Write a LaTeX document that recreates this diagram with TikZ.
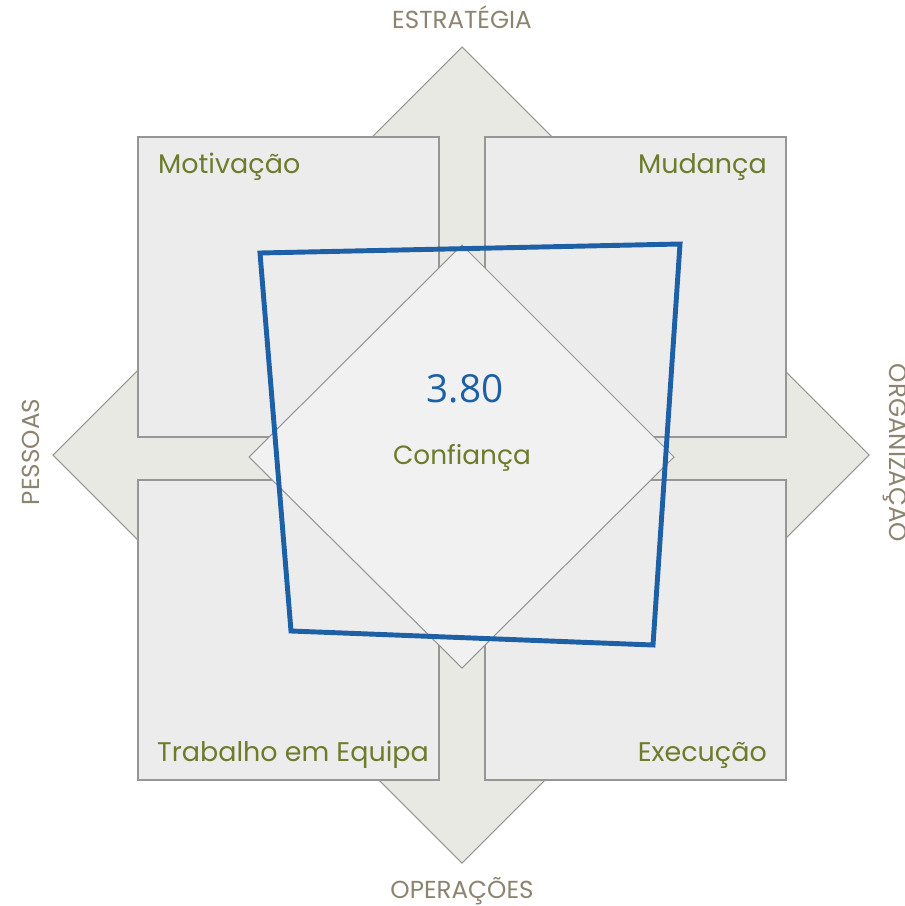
\documentclass[tikz,border=0pt]{standalone}
\usepackage{fontspec}
\setmainfont{Poppins}
\newfontfamily\numfont{Open Sans}
\usepackage{tikz}
\definecolor{crossfill}{RGB}{232,233,227}
\definecolor{boxfill}{RGB}{236,236,236}
\definecolor{diamondfill}{RGB}{241,241,241}
\definecolor{edgegray}{RGB}{150,150,150}
\definecolor{olivetext}{RGB}{108,124,42}
\definecolor{axistext}{RGB}{140,132,112}
\definecolor{scoreblue}{RGB}{30,96,165}
\tikzset{
    quadlabel/.style={font=\fontsize{23}{27}\selectfont, text=olivetext, inner sep=0pt},
    axislabel/.style={font=\fontsize{21}{25}\selectfont, text=axistext, inner sep=0pt},
    quadbox/.style={draw=edgegray, line width=1pt, fill=boxfill}
}

\begin{document}
\begin{tikzpicture}[x=0.3mm, y=-0.3mm]
    \useasboundingbox (0,0) rectangle (904,906);

    % Four-way arrow behind the boxes
    \draw[edgegray, line width=0.9pt, fill=crossfill]
        (462,47) -- (582,167) -- (522,167) -- (522,396) -- (749,396) -- (749,335)
        -- (869,455) -- (749,575) -- (749,516) -- (522,516) -- (522,743) -- (582,743)
        -- (462,863) -- (342,743) -- (402,743) -- (402,516) -- (173,516) -- (173,575)
        -- (53,455) -- (173,335) -- (173,396) -- (402,396) -- (402,167) -- (342,167) -- cycle;

    % Quadrant boxes
    \foreach \x/\y in {138/137, 485/137, 138/480, 485/480} {
        \draw[quadbox] (\x,\y) rectangle (\x+301,\y+300);
    }

    % Centre diamond
    \draw[edgegray, line width=0.9pt, fill=diamondfill]
        (462,245) -- (674,457) -- (462,668) -- (249,457) -- cycle;

    % Score polygon
    \draw[scoreblue, line width=4.2pt, line join=miter]
        (260,253) -- (680,244) -- (653,645) -- (291,631) -- cycle;

    % Quadrant labels
    \node[quadlabel, anchor=base west] (motiv) at (158,173) {Motivação};
    \node[quadlabel, anchor=base east] (mudanca) at (767,173) {Mudança};
    \node[quadlabel, font=\fontsize{23}{27}\selectfont, anchor=base west] (equipa) at (157,761) {Trabalho em Equipa};
    \node[quadlabel, anchor=base east] (execucao) at (767,761) {Execução};

    % Centre value
    \node[font=\numfont\fontsize{33}{38}\selectfont, text=scoreblue, inner sep=0pt, anchor=base] (score) at (465,402) {3.80};
    \node[quadlabel, font=\fontsize{22.5}{26}\selectfont, anchor=base] (conf) at (462,464) {Confiança};

    % Axis labels
    \node[axislabel, anchor=base] (estrat) at (462,29) {ESTRATÉGIA};
    \node[axislabel, anchor=base] (operac) at (462,898) {OPERAÇÕES};
    \node[axislabel, anchor=base, rotate=90] (pessoas) at (39,452) {PESSOAS};
    \node[axislabel, anchor=base, rotate=-90] (organiz) at (889,453) {ORGANIZAÇÃO};
\end{tikzpicture}
\end{document}
